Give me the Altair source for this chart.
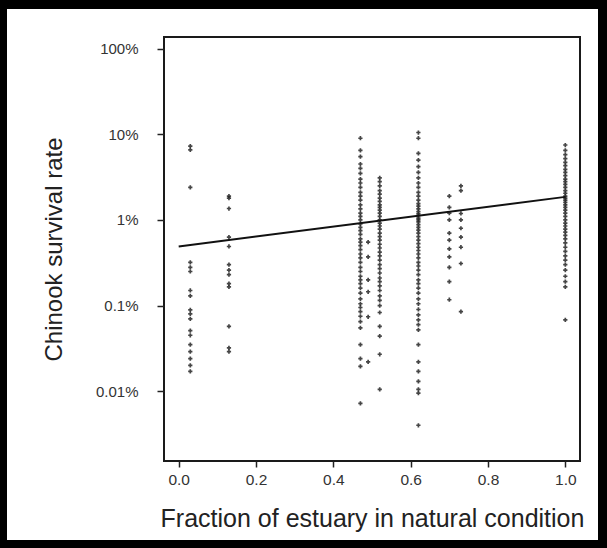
import altair as alt
import pandas as pd

# Fraction of estuary in natural condition for each group of observations
col_x = [0.03, 0.13, 0.47, 0.49, 0.52, 0.62, 0.70, 0.73, 1.0]

# Chinook survival rate (%), one list per group
surv_003 = [7.3, 6.6, 2.4, 0.32, 0.28, 0.25, 0.15, 0.13, 0.089, 0.080, 0.070,
            0.051, 0.045, 0.035, 0.029, 0.024, 0.020, 0.017]
surv_013 = [1.9, 1.8, 1.36, 0.63, 0.49, 0.30, 0.26, 0.23, 0.18, 0.165, 0.057,
            0.032, 0.029]
surv_047 = [9.0, 6.5, 5.5, 4.5, 4.0, 3.5, 3.0, 2.7, 2.4, 2.1, 1.9, 1.7, 1.5,
            1.35, 1.2, 1.1, 1.0, 0.9, 0.82, 0.75, 0.68, 0.6, 0.55, 0.5, 0.45,
            0.4, 0.36, 0.32, 0.28, 0.25, 0.22, 0.2, 0.18, 0.16, 0.14, 0.12,
            0.105, 0.095, 0.085, 0.075, 0.065, 0.055, 0.035, 0.024, 0.0195,
            0.0072]
surv_049 = [0.55, 0.37, 0.2, 0.145, 0.074, 0.022]
surv_052 = [3.1, 2.8, 2.5, 2.2, 2.0, 1.8, 1.65, 1.5, 1.4, 1.3, 1.2, 1.1, 1.0,
            0.92, 0.85, 0.78, 0.7, 0.64, 0.58, 0.52, 0.47, 0.42, 0.38, 0.34,
            0.3, 0.27, 0.24, 0.21, 0.19, 0.17, 0.15, 0.13, 0.115, 0.1, 0.083,
            0.057, 0.044, 0.027, 0.0105]
surv_062 = [10.5, 9.0, 6.0, 5.0, 4.2, 3.6, 3.1, 2.7, 2.4, 2.1, 1.9, 1.7, 1.55,
            1.45, 1.35, 1.25, 1.18, 1.12, 1.05, 1.0, 0.95, 0.88, 0.82, 0.76,
            0.7, 0.64, 0.58, 0.53, 0.48, 0.44, 0.4, 0.36, 0.32, 0.29, 0.26,
            0.23, 0.2, 0.18, 0.16, 0.14, 0.12, 0.105, 0.09, 0.078, 0.068,
            0.06, 0.052, 0.035, 0.022, 0.017, 0.013, 0.0105, 0.0095, 0.0040]
surv_070 = [1.9, 1.4, 1.2, 1.0, 0.70, 0.58, 0.46, 0.37, 0.28, 0.19, 0.117]
surv_073 = [2.5, 2.2, 1.19, 1.0, 0.8, 0.63, 0.48, 0.31, 0.085]
surv_100 = [7.5, 6.5, 5.8, 5.2, 4.7, 4.3, 3.9, 3.6, 3.3, 3.0, 2.8, 2.6, 2.4,
            2.2, 2.05, 1.9, 1.8, 1.7, 1.6, 1.5, 1.4, 1.3, 1.2, 1.1, 1.0, 0.92,
            0.85, 0.78, 0.72, 0.66, 0.6, 0.54, 0.48, 0.43, 0.38, 0.34, 0.3,
            0.26, 0.22, 0.19, 0.165, 0.068]

# Fitted regression line (survival %, at fraction 0 and 1)
fit_x = [0.0, 1.0]
fit_y = [0.49, 1.86]

# Axis ticks
x_ticks = [0.0, 0.2, 0.4, 0.6, 0.8, 1.0]
y_ticks = [0.01, 0.1, 1, 10, 100]

groups = [surv_003, surv_013, surv_047, surv_049, surv_052, surv_062,
          surv_070, surv_073, surv_100]
rows = []
for xv, ys in zip(col_x, groups):
    for yv in ys:
        rows.append({"frac": xv, "surv": yv})
pts = pd.DataFrame(rows)
fit = pd.DataFrame({"frac": fit_x, "surv": fit_y})

W, H = 416, 424
FONT = "Liberation Sans"

xscale = alt.Scale(domain=[-0.038, 1.038], nice=False, zero=False)
yscale = alt.Scale(type="log", domain=[0.00153, 137], nice=False)

xaxis = alt.Axis(values=x_ticks, format=".1f", title="Fraction of estuary in natural condition",
                 grid=False, domain=False, tickSize=6, tickWidth=1.5, tickColor="#222",
                 labelPadding=5, labelFontSize=15.5, labelColor="#333", labelFont=FONT,
                 titleFont=FONT, titleFontSize=25, titleFontWeight="normal",
                 titleColor="#222", titlePadding=19, zindex=1)
yaxis = alt.Axis(values=y_ticks, format="~g", labelExpr="datum.label + '%'",
                 title="Chinook survival rate", grid=False, domain=False,
                 tickSize=7, tickWidth=1.5, tickColor="#222", labelPadding=19,
                 labelFontSize=15, labelColor="#333", labelFont=FONT,
                 titleFont=FONT, titleFontSize=24, titleFontWeight="normal",
                 titleColor="#222", titlePadding=29, zindex=1)

one = pd.DataFrame({"a": [0]})

panel = alt.Chart(one).mark_rect(color="white").encode(
    x=alt.value(-157), x2=alt.value(434), y=alt.value(-28), y2=alt.value(503)
)

frame = alt.Chart(one).mark_rect(filled=False, stroke="#1a1a1a", strokeWidth=2).encode(
    x=alt.value(0), x2=alt.value(W), y=alt.value(0), y2=alt.value(H)
)

points = alt.Chart(pts).mark_point(shape="cross", filled=True, size=18,
                                   color="#262626", opacity=0.85).encode(
    x=alt.X("frac:Q", scale=xscale, axis=xaxis),
    y=alt.Y("surv:Q", scale=yscale, axis=yaxis),
)

line = alt.Chart(fit).mark_line(color="#111", strokeWidth=2).encode(
    x=alt.X("frac:Q", scale=xscale),
    y=alt.Y("surv:Q", scale=yscale),
)

chart = alt.layer(panel, points, line, frame).properties(
    width=W, height=H,
    background="black",
    padding={"left": 164, "top": 37, "right": 27, "bottom": 87},
    autosize=alt.AutoSizeParams(type="none"),
).configure_view(
    stroke=None, fill="white"
)

chart.save("out.html", embed_options={"renderer": "svg", "actions": False})
